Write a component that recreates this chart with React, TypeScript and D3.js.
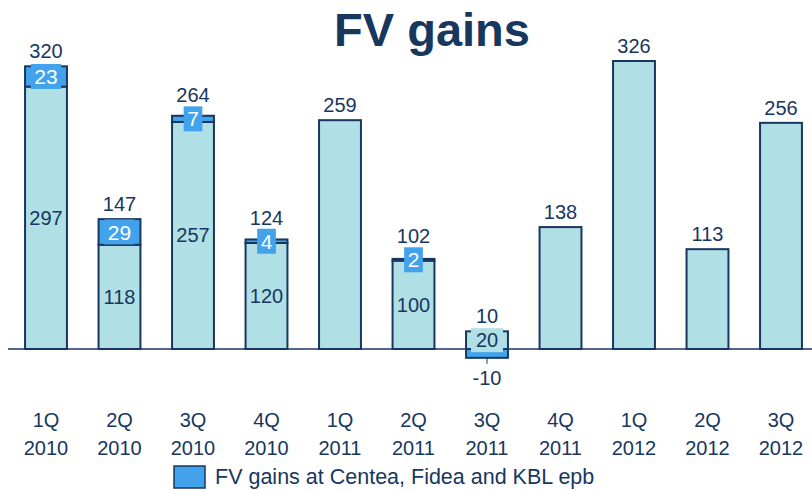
import * as d3 from "d3";
import { useEffect, useRef } from "react";

// chart data
const quarters = ["1Q", "2Q", "3Q", "4Q", "1Q", "2Q", "3Q", "4Q", "1Q", "2Q", "3Q"];
const years = ["2010", "2010", "2010", "2010", "2011", "2011", "2011", "2011", "2012", "2012", "2012"];
const baseValues = [297, 118, 257, 120, 259, 100, 20, 138, 326, 113, 256];
const fvGains = [23, 29, 7, 4, 0, 2, -10, 0, 0, 0, 0];
const legendLabel = "FV gains at Centea, Fidea and KBL epb";

const navy = "#17375e";
const light = "#b0dfe5";
const blue = "#42a3ec";
const font = "'Liberation Sans', Arial, sans-serif";

export default function App() {
  const ref = useRef<SVGSVGElement>(null);

  useEffect(() => {
    const svg = d3.select(ref.current);
    svg.selectAll("*").remove();

    const idx = baseValues.map((_, i) => i);
    const x = d3
      .scaleBand<number>()
      .domain(idx)
      .range([9.25, 9.25 + 11 * 73.5])
      .paddingInner(0.43)
      .paddingOuter(0.215);
    const y = d3.scaleLinear().domain([0, 326]).range([349, 61]);
    const bw = x.bandwidth();
    const cx = (i: number) => x(i)! + bw / 2;

    // title
    svg
      .append("text")
      .attr("x", 432)
      .attr("y", 46)
      .attr("text-anchor", "middle")
      .attr("font-family", font)
      .attr("font-weight", "bold")
      .attr("font-size", 47)
      .attr("fill", navy)
      .text("FV gains");

    const g = svg.append("g");

    // light bars
    g.selectAll("rect.base")
      .data(baseValues)
      .enter()
      .append("rect")
      .attr("x", (_, i) => x(i)!)
      .attr("y", (d) => y(d))
      .attr("width", bw)
      .attr("height", (d) => y(0) - y(d))
      .attr("fill", light)
      .attr("stroke", navy)
      .attr("stroke-width", 2);

    // fv gain segments
    idx.forEach((i) => {
      const d = fvGains[i];
      if (d === 0) return;
      g.append("rect")
        .attr("x", x(i)!)
        .attr("y", d > 0 ? y(baseValues[i] + d) : y(0))
        .attr("width", bw)
        .attr("height", Math.abs(y(0) - y(d)))
        .attr("fill", blue)
        .attr("stroke", navy)
        .attr("stroke-width", 2);
    });

    // baseline
    g.append("line")
      .attr("x1", 8)
      .attr("x2", 812)
      .attr("y1", y(0))
      .attr("y2", y(0))
      .attr("stroke", navy)
      .attr("stroke-width", 1.5);

    const txt = (sel: d3.Selection<any, any, any, any>) =>
      sel.attr("font-family", font).attr("font-size", 20).attr("text-anchor", "middle");

    // inside labels for stacked bars, returns top of gain box
    const boxTops: number[] = idx.map(() => Infinity);
    idx.forEach((i) => {
      const gain = fvGains[i];
      if (gain === 0) return;
      const base = baseValues[i];
      const by = (y(0) + y(base)) / 2;
      if (gain < 0) {
        g.append("rect")
          .attr("x", cx(i) - 16)
          .attr("y", by - 12)
          .attr("width", 32)
          .attr("height", 24)
          .attr("fill", light);
      }
      txt(g.append("text"))
        .attr("x", cx(i))
        .attr("y", by)
        .attr("dy", "0.35em")
        .attr("fill", navy)
        .text(base);

      if (gain > 0) {
        const gy = (y(base) + y(base + gain)) / 2;
        const t = txt(g.append("text"))
          .attr("x", cx(i))
          .attr("y", gy)
          .attr("dy", "0.36em")
          .attr("fill", "white")
          .attr("font-size", 21)
          .text(gain);
        const w = (t.node() as SVGTextElement).getComputedTextLength() + 7;
        boxTops[i] = gy - 12.5;
        g.insert("rect", () => t.node())
          .attr("x", cx(i) - w / 2)
          .attr("y", gy - 12.5)
          .attr("width", w)
          .attr("height", 25)
          .attr("fill", blue);
      } else {
        g.append("line")
          .attr("x1", cx(i))
          .attr("x2", cx(i))
          .attr("y1", y(gain))
          .attr("y2", y(gain) + 6)
          .attr("stroke", navy)
          .attr("stroke-width", 1);
        txt(g.append("text"))
          .attr("x", cx(i))
          .attr("y", y(gain) + 27)
          .attr("fill", navy)
          .text(gain);
      }
    });

    // total labels
    idx.forEach((i) => {
      const total = baseValues[i] + fvGains[i];
      const top = y(Math.max(baseValues[i], total));
      txt(g.append("text"))
        .attr("x", cx(i))
        .attr("y", Math.min(top - 8, boxTops[i] - 4))
        .attr("fill", navy)
        .text(total);
    });

    // x labels
    idx.forEach((i) => {
      txt(g.append("text"))
        .attr("x", cx(i))
        .attr("y", 427)
        .attr("fill", navy)
        .text(quarters[i]);
      txt(g.append("text"))
        .attr("x", cx(i))
        .attr("y", 455)
        .attr("fill", navy)
        .text(years[i]);
    });

    // legend
    svg
      .append("rect")
      .attr("x", 174)
      .attr("y", 466)
      .attr("width", 31)
      .attr("height", 22)
      .attr("fill", blue)
      .attr("stroke", navy)
      .attr("stroke-width", 1.5);
    svg
      .append("text")
      .attr("x", 215)
      .attr("y", 484)
      .attr("font-family", font)
      .attr("font-size", 21.5)
      .attr("fill", navy)
      .text(legendLabel);
  }, []);

  return (
    <svg
      ref={ref}
      width={812}
      height={490}
      style={{ position: "absolute", left: 0, top: 0, background: "white" }}
    />
  );
}
